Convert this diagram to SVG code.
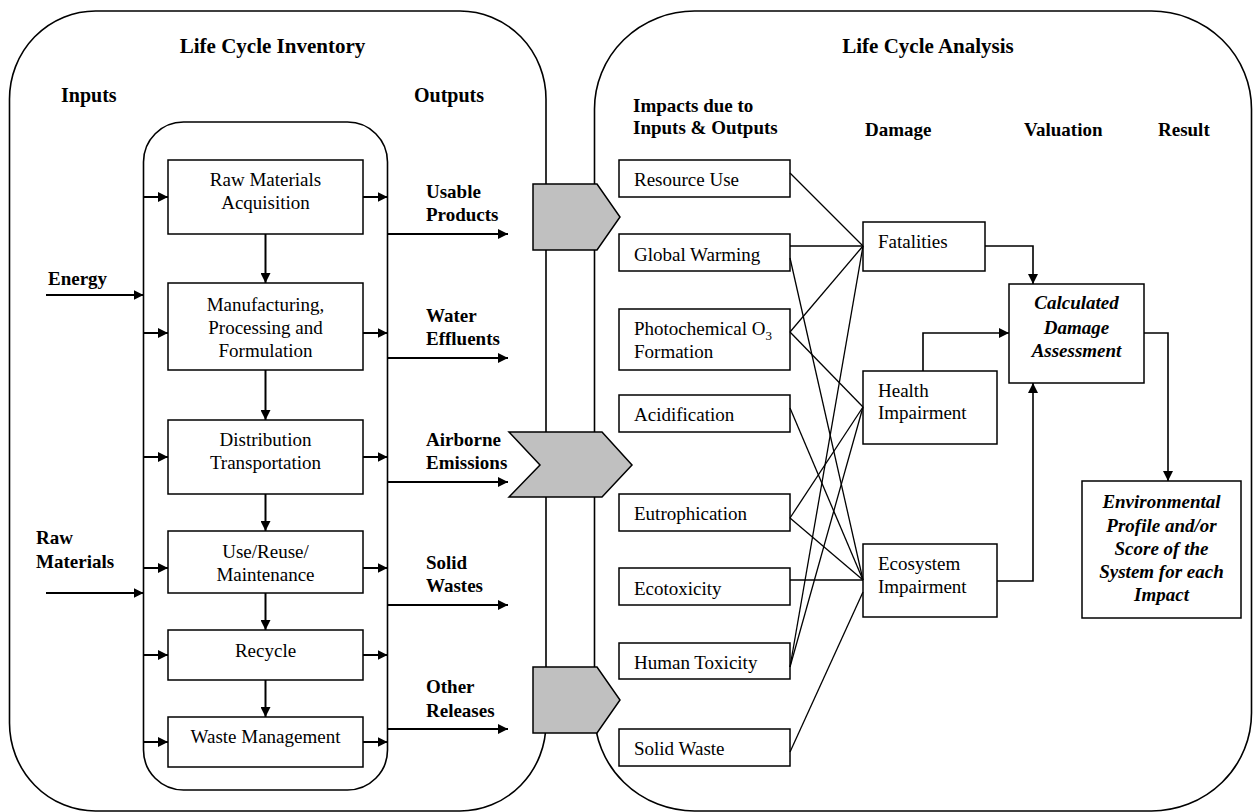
<svg xmlns="http://www.w3.org/2000/svg" width="1259" height="812" viewBox="0 0 1259 812">
  <defs>
    <marker id="arr" markerUnits="userSpaceOnUse" markerWidth="11" markerHeight="10" refX="10" refY="5" orient="auto">
      <path d="M0,0 L10,5 L0,10 z" fill="#000"/>
    </marker>
    <style>
      .panel { fill: #fff; stroke: #000; stroke-width: 1.6; }
      .box { fill: #fff; stroke: #000; stroke-width: 1.5; }
      .gray { fill: #c0c0c0; stroke: #000; stroke-width: 1.5; }
      .arrow { fill: none; stroke: #000; stroke-width: 2; marker-end: url(#arr); }
      .link { fill: none; stroke: #000; stroke-width: 1.3; }
      .flow { fill: none; stroke: #000; stroke-width: 1.6; }
      .flowa { fill: none; stroke: #000; stroke-width: 1.6; marker-end: url(#arr); }
      text { font-family: "Liberation Serif", "Times New Roman", serif; font-size: 19px; fill: #000; }
      .b { font-weight: bold; }
      .bi { font-weight: bold; font-style: italic; }
      .title { font-weight: bold; font-size: 21px; }
      .hd { font-weight: bold; font-size: 20px; }
      .c { text-anchor: middle; }
    </style>
  </defs>

  <!-- two main panels; the gap between them forms the pipe -->
  <rect id="inventory-panel" class="panel" x="9.5" y="11" width="536.5" height="800" rx="86" ry="88"/>
  <rect id="analysis-panel" class="panel" x="594.5" y="11" width="657" height="800" rx="100" ry="98"/>

  <!-- Life Cycle Inventory -->
  <g id="inventory-headers">
    <text class="title c" x="272.5" y="53">Life Cycle Inventory</text>
    <text class="hd" x="61" y="102">Inputs</text>
    <text class="hd" x="414" y="102">Outputs</text>
    <text class="b" x="48" y="285">Energy</text>
    <text class="b" x="36" y="544">Raw</text>
    <text class="b" x="36" y="568">Materials</text>
  </g>

  <rect id="process-frame" class="panel" x="143.5" y="122" width="244" height="668" rx="40" ry="40"/>

  <g id="raw-materials-acquisition">
    <rect class="box" x="168" y="160" width="195" height="74"/>
    <text class="c" x="265.5" y="186">Raw Materials</text>
    <text class="c" x="265.5" y="209">Acquisition</text>
  </g>
  <g id="manufacturing">
    <rect class="box" x="168" y="283" width="195" height="87"/>
    <text class="c" x="265.5" y="311">Manufacturing,</text>
    <text class="c" x="265.5" y="334">Processing and</text>
    <text class="c" x="265.5" y="357">Formulation</text>
  </g>
  <g id="distribution">
    <rect class="box" x="168" y="420" width="195" height="74"/>
    <text class="c" x="265.5" y="446">Distribution</text>
    <text class="c" x="265.5" y="469">Transportation</text>
  </g>
  <g id="use-reuse">
    <rect class="box" x="168" y="531" width="195" height="62"/>
    <text class="c" x="265.5" y="558">Use/Reuse/</text>
    <text class="c" x="265.5" y="581">Maintenance</text>
  </g>
  <g id="recycle">
    <rect class="box" x="168" y="630" width="195" height="50"/>
    <text class="c" x="265.5" y="657">Recycle</text>
  </g>
  <g id="waste-management">
    <rect class="box" x="168" y="717" width="195" height="50"/>
    <text class="c" x="265.5" y="743">Waste Management</text>
  </g>

  <g id="output-labels">
    <text class="b" x="426" y="198">Usable</text>
    <text class="b" x="426" y="221">Products</text>
    <text class="b" x="426" y="322">Water</text>
    <text class="b" x="426" y="345">Effluents</text>
    <text class="b" x="426" y="446">Airborne</text>
    <text class="b" x="426" y="469">Emissions</text>
    <text class="b" x="426" y="569">Solid</text>
    <text class="b" x="426" y="592">Wastes</text>
    <text class="b" x="426" y="693">Other</text>
    <text class="b" x="426" y="717">Releases</text>
  </g>

  <!-- pipe connectors -->
  <g id="pipe-usable">
    <polygon class="gray" points="533,184 597,184 620,217 597,250 533,250"/>
  </g>
  <g id="pipe-airborne">
    <polygon class="gray" points="509,432 602,432 632,465 602,497 509,497 540,465"/>
  </g>
  <g id="pipe-other">
    <polygon class="gray" points="533,667 597,667 620,700 597,733 533,733"/>
  </g>

  <!-- Life Cycle Analysis -->
  <g id="analysis-headers">
    <text class="title c" x="928" y="53">Life Cycle Analysis</text>
    <text class="b" x="633" y="112">Impacts due to</text>
    <text class="b" x="633" y="134">Inputs &amp; Outputs</text>
    <text class="b" x="865" y="136">Damage</text>
    <text class="b" x="1024" y="136">Valuation</text>
    <text class="b" x="1158" y="136">Result</text>
  </g>

  <g id="resource-use">
    <rect class="box" x="619" y="160" width="171" height="37"/>
    <text x="634" y="186">Resource Use</text>
  </g>
  <g id="global-warming">
    <rect class="box" x="619" y="234" width="171" height="37"/>
    <text x="634" y="261">Global Warming</text>
  </g>
  <g id="photochemical">
    <rect class="box" x="619" y="309" width="171" height="61"/>
    <text x="634" y="335">Photochemical O<tspan font-size="13" dy="5">3</tspan></text>
    <text x="634" y="358">Formation</text>
  </g>
  <g id="acidification">
    <rect class="box" x="619" y="395" width="171" height="37"/>
    <text x="634" y="421">Acidification</text>
  </g>
  <g id="eutrophication">
    <rect class="box" x="619" y="494" width="171" height="37"/>
    <text x="634" y="520">Eutrophication</text>
  </g>
  <g id="ecotoxicity">
    <rect class="box" x="619" y="568" width="171" height="37"/>
    <text x="634" y="595">Ecotoxicity</text>
  </g>
  <g id="human-toxicity">
    <rect class="box" x="619" y="643" width="171" height="36"/>
    <text x="634" y="669">Human Toxicity</text>
  </g>
  <g id="solid-waste">
    <rect class="box" x="619" y="729" width="171" height="37"/>
    <text x="634" y="755">Solid Waste</text>
  </g>

  <g id="fatalities">
    <rect class="box" x="863" y="222" width="122" height="49"/>
    <text x="878" y="248">Fatalities</text>
  </g>
  <g id="health-impairment">
    <rect class="box" x="863" y="371" width="134" height="73"/>
    <text x="878" y="397">Health</text>
    <text x="878" y="419">Impairment</text>
  </g>
  <g id="ecosystem-impairment">
    <rect class="box" x="863" y="544" width="134" height="73"/>
    <text x="878" y="570">Ecosystem</text>
    <text x="878" y="593">Impairment</text>
  </g>

  <g id="damage-assessment">
    <rect class="box" x="1009" y="284" width="135" height="99"/>
    <text class="bi c" x="1076.5" y="309">Calculated</text>
    <text class="bi c" x="1076.5" y="334">Damage</text>
    <text class="bi c" x="1076.5" y="357">Assessment</text>
  </g>
  <g id="environmental-profile">
    <rect class="box" x="1082" y="481" width="159" height="137"/>
    <text class="bi c" x="1161.5" y="508">Environmental</text>
    <text class="bi c" x="1161.5" y="532">Profile and/or</text>
    <text class="bi c" x="1161.5" y="555">Score of the</text>
    <text class="bi c" x="1161.5" y="578">System for each</text>
    <text class="bi c" x="1161.5" y="601">Impact</text>
  </g>

  <g id="connectors">
    <!-- external inputs -->
    <line class="arrow" x1="46" y1="295" x2="143.5" y2="295"/>
    <line class="arrow" x1="46" y1="593" x2="143.5" y2="593"/>
    <!-- inputs into each stage -->
    <line class="arrow" x1="143.5" y1="197" x2="168" y2="197"/>
    <line class="arrow" x1="143.5" y1="333" x2="168" y2="333"/>
    <line class="arrow" x1="143.5" y1="457" x2="168" y2="457"/>
    <line class="arrow" x1="143.5" y1="568" x2="168" y2="568"/>
    <line class="arrow" x1="143.5" y1="655" x2="168" y2="655"/>
    <line class="arrow" x1="143.5" y1="742" x2="168" y2="742"/>
    <!-- outputs from each stage -->
    <line class="arrow" x1="363" y1="197" x2="387.5" y2="197"/>
    <line class="arrow" x1="363" y1="333" x2="387.5" y2="333"/>
    <line class="arrow" x1="363" y1="457" x2="387.5" y2="457"/>
    <line class="arrow" x1="363" y1="568" x2="387.5" y2="568"/>
    <line class="arrow" x1="363" y1="655" x2="387.5" y2="655"/>
    <line class="arrow" x1="363" y1="742" x2="387.5" y2="742"/>
    <!-- stage sequence -->
    <line class="arrow" x1="265.5" y1="234" x2="265.5" y2="283"/>
    <line class="arrow" x1="265.5" y1="370" x2="265.5" y2="420"/>
    <line class="arrow" x1="265.5" y1="494" x2="265.5" y2="531"/>
    <line class="arrow" x1="265.5" y1="593" x2="265.5" y2="630"/>
    <line class="arrow" x1="265.5" y1="680" x2="265.5" y2="717"/>
    <!-- aggregated outputs -->
    <line class="arrow" x1="387.5" y1="234" x2="508" y2="234"/>
    <line class="arrow" x1="387.5" y1="358" x2="508" y2="358"/>
    <line class="arrow" x1="387.5" y1="482" x2="508" y2="482"/>
    <line class="arrow" x1="387.5" y1="605" x2="508" y2="605"/>
    <line class="arrow" x1="387.5" y1="729" x2="508" y2="729"/>

    <!-- impact categories to damage categories -->
    <line class="link" x1="790" y1="173" x2="863" y2="246"/>
    <line class="link" x1="790" y1="246" x2="863" y2="246"/>
    <line class="link" x1="790" y1="258" x2="863" y2="580"/>
    <line class="link" x1="790" y1="332" x2="863" y2="246"/>
    <line class="link" x1="790" y1="332" x2="863" y2="407"/>
    <line class="link" x1="790" y1="408" x2="863" y2="580"/>
    <line class="link" x1="790" y1="518" x2="863" y2="407"/>
    <line class="link" x1="790" y1="518" x2="863" y2="580"/>
    <line class="link" x1="790" y1="580" x2="863" y2="580"/>
    <line class="link" x1="790" y1="667" x2="863" y2="246"/>
    <line class="link" x1="790" y1="667" x2="863" y2="407"/>
    <line class="link" x1="790" y1="752" x2="863" y2="592"/>

    <!-- damage categories to valuation and result -->
    <polyline class="flowa" points="985,246 1033,246 1033,284"/>
    <polyline class="flowa" points="923,371 923,333 1009,333"/>
    <polyline class="flowa" points="997,581 1033,581 1033,383"/>
    <polyline class="flowa" points="1144,333 1168,333 1168,481"/>
  </g>
</svg>
